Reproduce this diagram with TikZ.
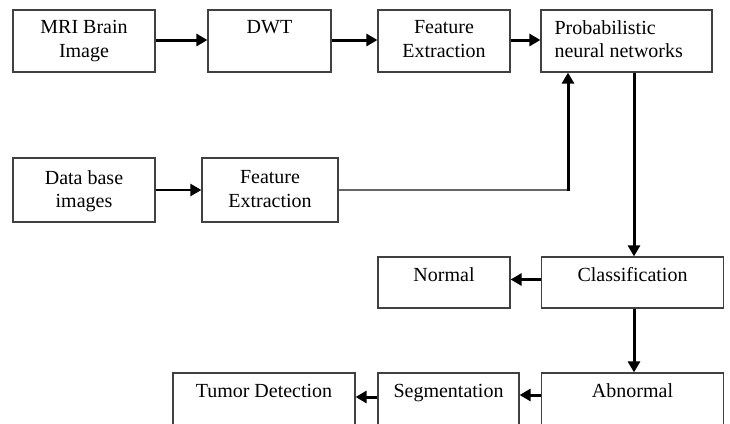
\documentclass[tikz,border=0pt]{standalone}
\usepackage{fontspec}
\setmainfont{Liberation Serif}
\usetikzlibrary{arrows.meta}

\tikzset{
  box/.style={draw=black!75, line width=1.2pt, inner sep=0pt, minimum width=#1},
  lbl/.style={anchor=north, inner sep=0pt, align=center,
    font=\fontsize{20}{23.5}\selectfont},
  flow/.style={line width=3pt, -{Triangle[length=11pt,width=12pt]}},
  feed/.style={line width=1.6pt, draw=black!60}
}

\begin{document}
\begin{tikzpicture}[x=1pt, y=-1pt]
  \useasboundingbox (0,0) rectangle (730,423);
  \fill[white] (0,0) rectangle (730,423);

  % top row
  \node[box=142pt, minimum height=62pt] (mri) at (84,41) {};
  \node[box=123pt, minimum height=62pt] (dwt) at (269.5,41) {};
  \node[box=132pt, minimum height=62pt] (fea) at (444,41) {};
  \node[box=171pt, minimum height=62pt] (pnn) at (626.5,41) {};

  % database branch
  \node[box=142pt, minimum height=64pt] (db)  at (84,190) {};
  \node[box=136pt, minimum height=64pt] (feb) at (270,190) {};

  % classification stage
  \node[box=132pt, minimum height=51pt] (nor) at (444,282.5) {};
  \node[box=182pt, minimum height=51pt] (cls) at (632.5,282.5) {};

  % bottom row
  \node[box=182pt, minimum height=52pt] (abn) at (632.5,399) {};
  \node[box=141pt, minimum height=52pt] (seg) at (448.5,399) {};
  \node[box=182pt, minimum height=52pt] (tum) at (264,399) {};

  % labels
  \node[lbl] (tmri) at ([yshift=-11pt]mri.north) {MRI Brain\\Image};
  \node[lbl] (tdwt) at ([yshift=-11pt]dwt.north) {DWT};
  \node[lbl] (tfea) at ([yshift=-11pt]fea.north) {Feature\\Extraction};
  \node[lbl, anchor=north west, align=left] (tpnn)
    at ([xshift=14pt,yshift=-11pt]pnn.north west) {Probabilistic\\neural networks};
  \node[lbl] (tdb)  at ([yshift=-13pt]db.north) {Data base\\images};
  \node[lbl] (tfeb) at ([yshift=-13pt]feb.north) {Feature\\Extraction};
  \node[lbl] (tnor) at ([yshift=-11pt]nor.north) {Normal};
  \node[lbl] (tcls) at ([yshift=-11pt]cls.north) {Classification};
  \node[lbl] (tabn) at ([yshift=-11.5pt]abn.north) {Abnormal};
  \node[lbl] (tseg) at ([yshift=-11.5pt]seg.north) {Segmentation};
  \node[lbl] (ttum) at ([yshift=-11.5pt]tum.north) {Tumor Detection};

  % connectors
  \draw[flow] ([yshift=1pt]mri.east) -- ([yshift=1pt]dwt.west);
  \draw[flow] ([yshift=1pt]dwt.east) -- ([yshift=1pt]fea.west);
  \draw[flow] ([yshift=1pt]fea.east) -- ([yshift=1pt]pnn.west);
  \draw[flow, line width=2.4pt] (db.east) -- (feb.west);

  \coordinate (bend) at (568,190);
  \draw[feed] (feb.east) -- (bend);
  \draw[flow] ([yshift=-1pt]bend) -- (bend |- pnn.south);

  \coordinate (drop) at (634,0);
  \draw[flow] (drop |- pnn.south) -- (drop |- cls.north);
  \draw[flow] ([yshift=3pt]cls.west) -- ([yshift=3pt]cls.west -| nor.east);
  \draw[flow] (drop |- cls.south) -- (drop |- abn.north);
  \draw[flow] ([yshift=4pt]abn.west) -- ([yshift=4pt]abn.west -| seg.east);
  \draw[flow] ([yshift=2pt]seg.west) -- ([yshift=2pt]seg.west -| tum.east);
\end{tikzpicture}
\end{document}
